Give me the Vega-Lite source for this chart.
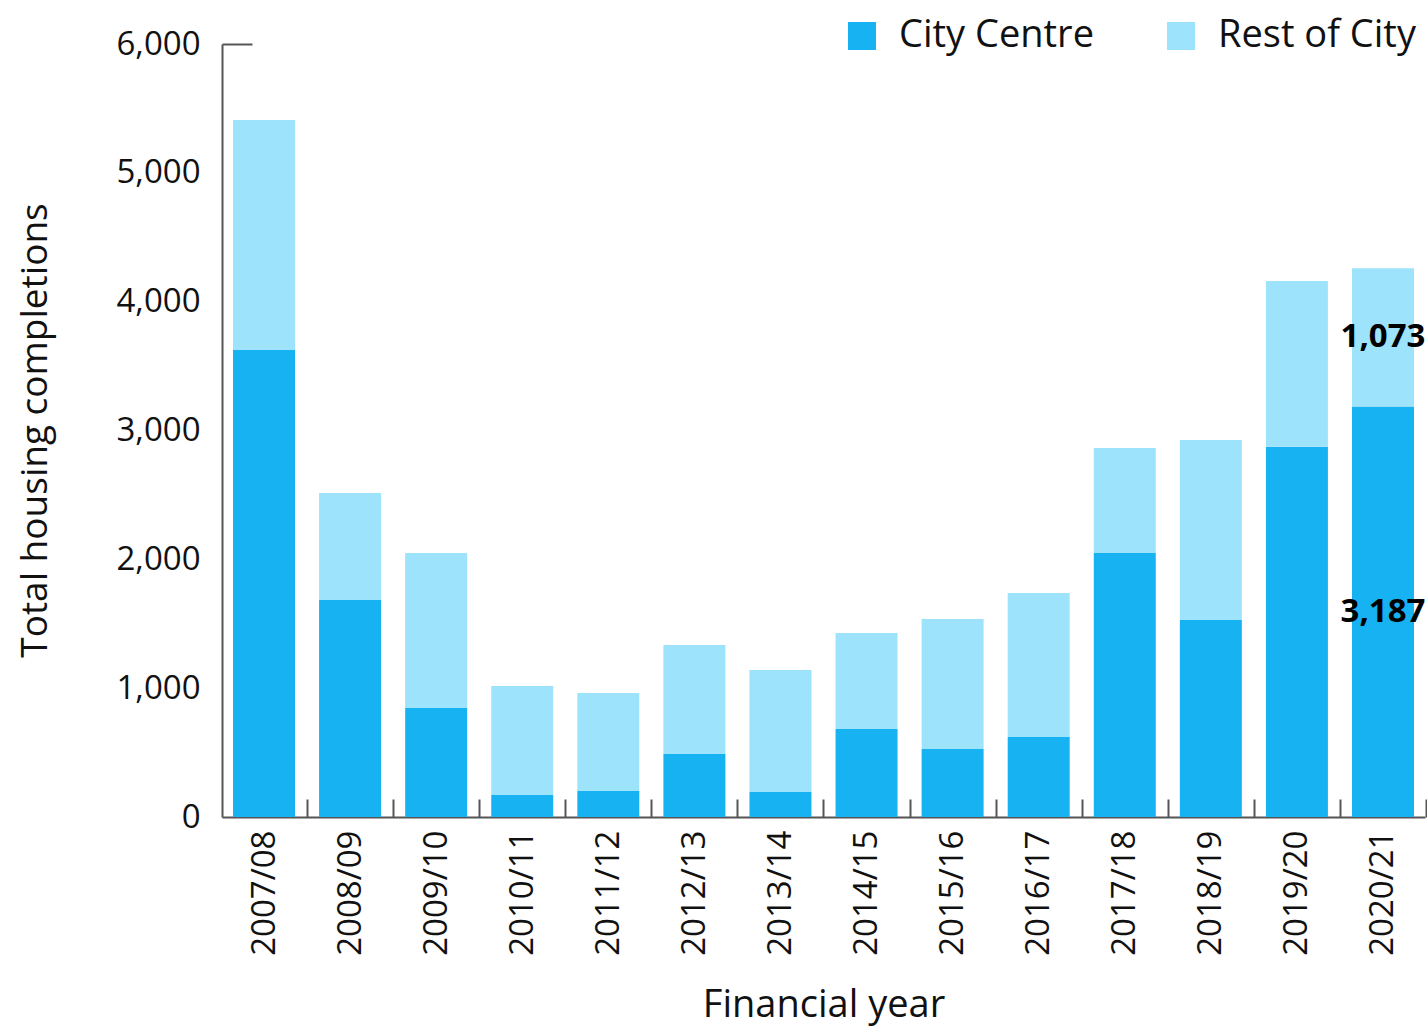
{
  "$schema": "https://vega.github.io/schema/vega-lite/v6.json",
  "width": 1203,
  "height": 773,
  "autosize": {"type": "none"},
  "padding": {"left": 222, "top": 44, "right": 2, "bottom": 213},
  "background": "white",
  "config": {
    "view": {"stroke": null},
    "font": "Open Sans",
    "axis": {"labelFont": "Open Sans", "titleFont": "Open Sans", "labelColor": "#111", "titleColor": "#111", "titleFontWeight": "normal", "grid": false}
  },
  "data": {
    "values": [
      {"year": "2007/08", "area": "City Centre", "value": 3625},
      {"year": "2007/08", "area": "Rest of City", "value": 1785},
      {"year": "2008/09", "area": "City Centre", "value": 1685},
      {"year": "2008/09", "area": "Rest of City", "value": 830},
      {"year": "2009/10", "area": "City Centre", "value": 846},
      {"year": "2009/10", "area": "Rest of City", "value": 1204},
      {"year": "2010/11", "area": "City Centre", "value": 171},
      {"year": "2010/11", "area": "Rest of City", "value": 846},
      {"year": "2011/12", "area": "City Centre", "value": 202},
      {"year": "2011/12", "area": "Rest of City", "value": 761},
      {"year": "2012/13", "area": "City Centre", "value": 489},
      {"year": "2012/13", "area": "Rest of City", "value": 846},
      {"year": "2013/14", "area": "City Centre", "value": 194},
      {"year": "2013/14", "area": "Rest of City", "value": 947},
      {"year": "2014/15", "area": "City Centre", "value": 683},
      {"year": "2014/15", "area": "Rest of City", "value": 746},
      {"year": "2015/16", "area": "City Centre", "value": 528},
      {"year": "2015/16", "area": "Rest of City", "value": 1009},
      {"year": "2016/17", "area": "City Centre", "value": 621},
      {"year": "2016/17", "area": "Rest of City", "value": 1118},
      {"year": "2017/18", "area": "City Centre", "value": 2050},
      {"year": "2017/18", "area": "Rest of City", "value": 815},
      {"year": "2018/19", "area": "City Centre", "value": 1530},
      {"year": "2018/19", "area": "Rest of City", "value": 1397},
      {"year": "2019/20", "area": "City Centre", "value": 2873},
      {"year": "2019/20", "area": "Rest of City", "value": 1288},
      {"year": "2020/21", "area": "City Centre", "value": 3187},
      {"year": "2020/21", "area": "Rest of City", "value": 1073}
    ]
  },
  "encoding": {
    "x": {
      "field": "year", "type": "nominal",
      "scale": {"paddingInner": 0.28, "paddingOuter": 0.128},
      "axis": {
        "title": "Financial year", "titleFontSize": 38, "titleY": 188, "titleBaseline": "middle",
        "labelAngle": -90, "labelAlign": "right", "labelBaseline": "middle", "labelFontSize": 33, "labelPadding": 31,
        "tickOffset": 43, "labelOffset": -43,
        "tickSize": -18, "tickColor": "#555", "tickWidth": 2,
        "domainColor": "#555", "domainWidth": 2
      }
    }
  },
  "layer": [
    {
      "mark": {"type": "bar"},
      "encoding": {
        "y": {
          "field": "value", "type": "quantitative", "stack": "zero",
          "scale": {"domain": [0, 6000]},
          "axis": {
            "title": "Total housing completions", "titleFontSize": 37, "titleX": -187, "titleY": 386, "titleAlign": "center", "titleBaseline": "middle", "titleAngle": -90,
            "values": [0, 1000, 2000, 3000, 4000, 5000, 6000], "format": ",.0f", "labelFontSize": 33, "labelPadding": 52,
            "tickSize": -30, "tickColor": "#555", "tickWidth": 2,
            "tickOpacity": {"condition": {"test": "datum.value === 6000", "value": 1}, "value": 0},
            "domainColor": "#555", "domainWidth": 2
          }
        },
        "color": {
          "field": "area", "type": "nominal",
          "scale": {"domain": ["City Centre", "Rest of City"], "range": ["#16B2F2", "#9DE3FC"]},
          "legend": {
            "title": null, "orient": "none", "direction": "horizontal", "legendX": 621, "legendY": -27,
            "symbolType": "square", "symbolSize": 784, "symbolStrokeWidth": 0, "symbolOpacity": 1,
            "labelFontSize": 38, "labelFont": "Open Sans", "labelColor": "#111", "labelOffset": 18, "columnPadding": 68, "labelLimit": 400
          }
        },
        "order": {"field": "area", "sort": "ascending"}
      }
    },
    {
      "transform": [
        {"filter": "datum.year === '2020/21'"},
        {"stack": "value", "groupby": ["year"], "sort": [{"field": "area", "order": "ascending"}], "as": ["v0", "v1"]},
        {"calculate": "(datum.v0 + datum.v1) / 2", "as": "mid"}
      ],
      "mark": {"type": "text", "font": "Open Sans", "fontWeight": "bold", "fontSize": 33, "color": "#000", "align": "center", "baseline": "middle"},
      "encoding": {
        "y": {"field": "mid", "type": "quantitative"},
        "text": {"field": "value", "type": "quantitative", "format": ","}
      }
    }
  ]
}
